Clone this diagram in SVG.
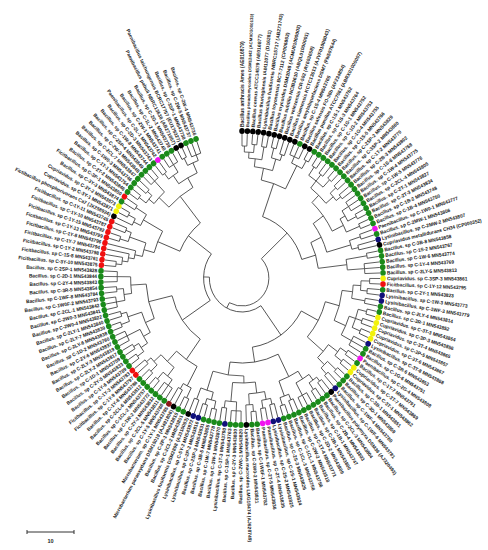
<svg xmlns="http://www.w3.org/2000/svg" width="488" height="550" viewBox="0 0 488 550">
<style>
.c line,.c circle{fill:none;stroke:#3a3a3a;stroke-width:.8}
.K circle{fill:#000}.G circle{fill:#1a8a1a}.R circle{fill:#f01010}.B circle{fill:#10107a}.Y circle{fill:#f2f20a}.M circle{fill:#f014f0}.D circle{fill:#8b1a1a}
#leaves text{font-family:"Liberation Sans",Arial,sans-serif;font-size:5px;font-weight:bold;fill:#1a1a1a}
#leaves text.e{text-anchor:end}
#leaves text.s{font-size:4.4px}
.sb{stroke:#333;stroke-width:1}
.sbt{font-family:"Liberation Sans",Arial,sans-serif;font-size:5.5px;font-weight:bold;fill:#222;text-anchor:middle}
</style>
<rect width="488" height="550" fill="#fff"/>
<g transform="translate(242 278) scale(0.96 1)">
<g id="connectors" class="c">
<circle r="132" pathLength="360" stroke-dasharray="2.2 999" transform="rotate(-90)"/>
<circle r="134" pathLength="360" stroke-dasharray="2.2 999" transform="rotate(-85.6)"/>
<circle r="126" pathLength="360" stroke-dasharray="4.4 999" transform="rotate(-88.9)"/>
<circle r="133" pathLength="360" stroke-dasharray="2.2 999" transform="rotate(-81.2)"/>
<circle r="120" pathLength="360" stroke-dasharray="6.6 999" transform="rotate(-86.7)"/>
<circle r="134" pathLength="360" stroke-dasharray="2.2 999" transform="rotate(-76.8)"/>
<circle r="130" pathLength="360" stroke-dasharray="2.2 999" transform="rotate(-72.4)"/>
<circle r="124" pathLength="360" stroke-dasharray="4.4 999" transform="rotate(-75.7)"/>
<circle r="112" pathLength="360" stroke-dasharray="9.9 999" transform="rotate(-83.4)"/>
<circle r="133" pathLength="360" stroke-dasharray="4.4 999" transform="rotate(-68)"/>
<circle r="135" pathLength="360" stroke-dasharray="2.2 999" transform="rotate(-61.4)"/>
<circle r="126" pathLength="360" stroke-dasharray="5.5 999" transform="rotate(-65.8)"/>
<circle r="100" pathLength="360" stroke-dasharray="15.4 999" transform="rotate(-78.45)"/>
<line transform="rotate(1.1)" y1="-126" y2="-132"/>
<line transform="rotate(5.5)" y1="-126" y2="-134"/>
<line transform="rotate(3.3)" y1="-120" y2="-126"/>
<line transform="rotate(9.9)" y1="-120" y2="-133"/>
<line transform="rotate(6.6)" y1="-112" y2="-120"/>
<line transform="rotate(14.3)" y1="-124" y2="-134"/>
<line transform="rotate(18.7)" y1="-124" y2="-130"/>
<line transform="rotate(16.5)" y1="-112" y2="-124"/>
<line transform="rotate(11.55)" y1="-100" y2="-112"/>
<line transform="rotate(24.2)" y1="-126" y2="-133"/>
<line transform="rotate(29.7)" y1="-126" y2="-135"/>
<line transform="rotate(26.95)" y1="-100" y2="-126"/>
<line transform="rotate(19.25)" y1="-65" y2="-100"/>
<circle r="134" pathLength="360" stroke-dasharray="2.2 999" transform="rotate(-57)"/>
<circle r="132" pathLength="360" stroke-dasharray="2.2 999" transform="rotate(-52.6)"/>
<circle r="134" pathLength="360" stroke-dasharray="2.2 999" transform="rotate(-48.2)"/>
<circle r="124" pathLength="360" stroke-dasharray="8.8 999" transform="rotate(-55.9)"/>
<circle r="133" pathLength="360" stroke-dasharray="2.2 999" transform="rotate(-43.8)"/>
<circle r="131" pathLength="360" stroke-dasharray="2.2 999" transform="rotate(-39.4)"/>
<circle r="125" pathLength="360" stroke-dasharray="4.4 999" transform="rotate(-42.7)"/>
<circle r="115" pathLength="360" stroke-dasharray="11 999" transform="rotate(-51.5)"/>
<circle r="132" pathLength="360" stroke-dasharray="4.4 999" transform="rotate(-35)"/>
<circle r="134" pathLength="360" stroke-dasharray="2.2 999" transform="rotate(-28.4)"/>
<circle r="124" pathLength="360" stroke-dasharray="5.5 999" transform="rotate(-32.8)"/>
<circle r="133" pathLength="360" stroke-dasharray="2.2 999" transform="rotate(-24)"/>
<circle r="118" pathLength="360" stroke-dasharray="7.15 999" transform="rotate(-30.05)"/>
<circle r="105" pathLength="360" stroke-dasharray="19.5 999" transform="rotate(-46)"/>
<circle r="130" pathLength="360" stroke-dasharray="2.2 999" transform="rotate(-19.6)"/>
<circle r="125" pathLength="360" stroke-dasharray="2.2 999" transform="rotate(-15.2)"/>
<circle r="118" pathLength="360" stroke-dasharray="4.4 999" transform="rotate(-18.5)"/>
<circle r="92" pathLength="360" stroke-dasharray="19.95 999" transform="rotate(-36.25)"/>
<circle r="132" pathLength="360" stroke-dasharray="2.2 999" transform="rotate(-10.8)"/>
<circle r="128" pathLength="360" stroke-dasharray="4.4 999" transform="rotate(-6.4)"/>
<circle r="110" pathLength="360" stroke-dasharray="5.5 999" transform="rotate(-9.7)"/>
<circle r="80" pathLength="360" stroke-dasharray="19.35 999" transform="rotate(-26.3)"/>
<circle r="65" pathLength="360" stroke-dasharray="54.15 999" transform="rotate(-70.75)"/>
<line transform="rotate(34.1)" y1="-124" y2="-134"/>
<line transform="rotate(38.5)" y1="-124" y2="-132"/>
<line transform="rotate(42.9)" y1="-124" y2="-134"/>
<line transform="rotate(38.5)" y1="-115" y2="-124"/>
<line transform="rotate(47.3)" y1="-125" y2="-133"/>
<line transform="rotate(51.7)" y1="-125" y2="-131"/>
<line transform="rotate(49.5)" y1="-115" y2="-125"/>
<line transform="rotate(44)" y1="-105" y2="-115"/>
<line transform="rotate(57.2)" y1="-124" y2="-132"/>
<line transform="rotate(62.7)" y1="-124" y2="-134"/>
<line transform="rotate(59.95)" y1="-118" y2="-124"/>
<line transform="rotate(67.1)" y1="-118" y2="-133"/>
<line transform="rotate(63.5)" y1="-105" y2="-118"/>
<line transform="rotate(53.75)" y1="-92" y2="-105"/>
<line transform="rotate(71.5)" y1="-118" y2="-130"/>
<line transform="rotate(75.9)" y1="-118" y2="-125"/>
<line transform="rotate(73.7)" y1="-92" y2="-118"/>
<line transform="rotate(63.7)" y1="-80" y2="-92"/>
<line transform="rotate(80.3)" y1="-110" y2="-132"/>
<line transform="rotate(85.8)" y1="-110" y2="-128"/>
<line transform="rotate(83.05)" y1="-80" y2="-110"/>
<line transform="rotate(73.4)" y1="-65" y2="-80"/>
<line transform="rotate(46.3)" y1="-28" y2="-65"/>
<circle r="133" pathLength="360" stroke-dasharray="2.2 999" transform="rotate(0.2)"/>
<circle r="131" pathLength="360" stroke-dasharray="2.2 999" transform="rotate(4.6)"/>
<circle r="124" pathLength="360" stroke-dasharray="4.4 999" transform="rotate(1.3)"/>
<circle r="130" pathLength="360" stroke-dasharray="2.2 999" transform="rotate(9)"/>
<circle r="116" pathLength="360" stroke-dasharray="6.6 999" transform="rotate(3.5)"/>
<circle r="134" pathLength="360" stroke-dasharray="2.2 999" transform="rotate(13.4)"/>
<circle r="132" pathLength="360" stroke-dasharray="2.2 999" transform="rotate(17.8)"/>
<circle r="134" pathLength="360" stroke-dasharray="2.2 999" transform="rotate(22.2)"/>
<circle r="125" pathLength="360" stroke-dasharray="8.8 999" transform="rotate(14.5)"/>
<circle r="130" pathLength="360" stroke-dasharray="4.4 999" transform="rotate(26.6)"/>
<circle r="118" pathLength="360" stroke-dasharray="9.9 999" transform="rotate(18.9)"/>
<circle r="105" pathLength="360" stroke-dasharray="17.05 999" transform="rotate(6.8)"/>
<circle r="132" pathLength="360" stroke-dasharray="2.2 999" transform="rotate(33.2)"/>
<circle r="133" pathLength="360" stroke-dasharray="2.2 999" transform="rotate(37.6)"/>
<circle r="124" pathLength="360" stroke-dasharray="4.4 999" transform="rotate(34.3)"/>
<circle r="134" pathLength="360" stroke-dasharray="2.2 999" transform="rotate(42)"/>
<circle r="130" pathLength="360" stroke-dasharray="2.2 999" transform="rotate(46.4)"/>
<circle r="122" pathLength="360" stroke-dasharray="4.4 999" transform="rotate(43.1)"/>
<circle r="112" pathLength="360" stroke-dasharray="8.8 999" transform="rotate(36.5)"/>
<circle r="90" pathLength="360" stroke-dasharray="25.6 999" transform="rotate(15.3)"/>
<line transform="rotate(91.3)" y1="-124" y2="-133"/>
<line transform="rotate(95.7)" y1="-124" y2="-131"/>
<line transform="rotate(93.5)" y1="-116" y2="-124"/>
<line transform="rotate(100.1)" y1="-116" y2="-130"/>
<line transform="rotate(96.8)" y1="-105" y2="-116"/>
<line transform="rotate(104.5)" y1="-125" y2="-134"/>
<line transform="rotate(108.9)" y1="-125" y2="-132"/>
<line transform="rotate(113.3)" y1="-125" y2="-134"/>
<line transform="rotate(108.9)" y1="-118" y2="-125"/>
<line transform="rotate(118.8)" y1="-118" y2="-130"/>
<line transform="rotate(113.85)" y1="-105" y2="-118"/>
<line transform="rotate(105.3)" y1="-90" y2="-105"/>
<line transform="rotate(124.3)" y1="-124" y2="-132"/>
<line transform="rotate(128.7)" y1="-124" y2="-133"/>
<line transform="rotate(126.5)" y1="-112" y2="-124"/>
<line transform="rotate(133.1)" y1="-122" y2="-134"/>
<line transform="rotate(137.5)" y1="-122" y2="-130"/>
<line transform="rotate(135.3)" y1="-112" y2="-122"/>
<line transform="rotate(130.9)" y1="-90" y2="-112"/>
<line transform="rotate(118.1)" y1="-70" y2="-90"/>
<circle r="131" pathLength="360" stroke-dasharray="2.2 999" transform="rotate(50.8)"/>
<circle r="134" pathLength="360" stroke-dasharray="2.2 999" transform="rotate(55.2)"/>
<circle r="126" pathLength="360" stroke-dasharray="4.4 999" transform="rotate(51.9)"/>
<circle r="133" pathLength="360" stroke-dasharray="4.4 999" transform="rotate(59.6)"/>
<circle r="119" pathLength="360" stroke-dasharray="7.7 999" transform="rotate(54.1)"/>
<circle r="132" pathLength="360" stroke-dasharray="2.2 999" transform="rotate(66.2)"/>
<circle r="134" pathLength="360" stroke-dasharray="2.2 999" transform="rotate(70.6)"/>
<circle r="126" pathLength="360" stroke-dasharray="4.4 999" transform="rotate(67.3)"/>
<circle r="110" pathLength="360" stroke-dasharray="11.55 999" transform="rotate(57.95)"/>
<circle r="130" pathLength="360" stroke-dasharray="2.2 999" transform="rotate(75)"/>
<circle r="132" pathLength="360" stroke-dasharray="2.2 999" transform="rotate(79.4)"/>
<circle r="124" pathLength="360" stroke-dasharray="4.4 999" transform="rotate(76.1)"/>
<circle r="134" pathLength="360" stroke-dasharray="2.2 999" transform="rotate(83.8)"/>
<circle r="127" pathLength="360" stroke-dasharray="3.3 999" transform="rotate(84.9)"/>
<circle r="116" pathLength="360" stroke-dasharray="8.25 999" transform="rotate(78.3)"/>
<circle r="133" pathLength="360" stroke-dasharray="4.4 999" transform="rotate(90.4)"/>
<circle r="131" pathLength="360" stroke-dasharray="2.2 999" transform="rotate(97)"/>
<circle r="124" pathLength="360" stroke-dasharray="5.5 999" transform="rotate(92.6)"/>
<circle r="105" pathLength="360" stroke-dasharray="12.95 999" transform="rotate(82.4)"/>
<circle r="134" pathLength="360" stroke-dasharray="2.2 999" transform="rotate(101.4)"/>
<circle r="132" pathLength="360" stroke-dasharray="2.2 999" transform="rotate(105.8)"/>
<circle r="126" pathLength="360" stroke-dasharray="4.4 999" transform="rotate(102.5)"/>
<circle r="130" pathLength="360" stroke-dasharray="2.2 999" transform="rotate(110.2)"/>
<circle r="118" pathLength="360" stroke-dasharray="6.6 999" transform="rotate(104.7)"/>
<circle r="98" pathLength="360" stroke-dasharray="19.1 999" transform="rotate(88.9)"/>
<circle r="85" pathLength="360" stroke-dasharray="34.75 999" transform="rotate(63.7)"/>
<line transform="rotate(141.9)" y1="-126" y2="-131"/>
<line transform="rotate(146.3)" y1="-126" y2="-134"/>
<line transform="rotate(144.1)" y1="-119" y2="-126"/>
<line transform="rotate(151.8)" y1="-119" y2="-133"/>
<line transform="rotate(147.95)" y1="-110" y2="-119"/>
<line transform="rotate(157.3)" y1="-126" y2="-132"/>
<line transform="rotate(161.7)" y1="-126" y2="-134"/>
<line transform="rotate(159.5)" y1="-110" y2="-126"/>
<line transform="rotate(153.7)" y1="-85" y2="-110"/>
<line transform="rotate(166.1)" y1="-124" y2="-130"/>
<line transform="rotate(170.5)" y1="-124" y2="-132"/>
<line transform="rotate(168.3)" y1="-116" y2="-124"/>
<line transform="rotate(174.9)" y1="-127" y2="-134"/>
<line transform="rotate(176.55)" y1="-116" y2="-127"/>
<line transform="rotate(172.4)" y1="-105" y2="-116"/>
<line transform="rotate(182.6)" y1="-124" y2="-133"/>
<line transform="rotate(188.1)" y1="-124" y2="-131"/>
<line transform="rotate(185.35)" y1="-105" y2="-124"/>
<line transform="rotate(178.9)" y1="-98" y2="-105"/>
<line transform="rotate(192.5)" y1="-126" y2="-134"/>
<line transform="rotate(196.9)" y1="-126" y2="-132"/>
<line transform="rotate(194.7)" y1="-118" y2="-126"/>
<line transform="rotate(201.3)" y1="-118" y2="-130"/>
<line transform="rotate(198)" y1="-98" y2="-118"/>
<line transform="rotate(188.45)" y1="-85" y2="-98"/>
<line transform="rotate(171.1)" y1="-70" y2="-85"/>
<circle r="133" pathLength="360" stroke-dasharray="2.2 999" transform="rotate(114.6)"/>
<circle r="128" pathLength="360" stroke-dasharray="2.2 999" transform="rotate(119)"/>
<circle r="122" pathLength="360" stroke-dasharray="4.4 999" transform="rotate(115.7)"/>
<circle r="132" pathLength="360" stroke-dasharray="4.4 999" transform="rotate(123.4)"/>
<circle r="134" pathLength="360" stroke-dasharray="2.2 999" transform="rotate(130)"/>
<circle r="125" pathLength="360" stroke-dasharray="5.5 999" transform="rotate(125.6)"/>
<circle r="133" pathLength="360" stroke-dasharray="2.2 999" transform="rotate(134.4)"/>
<circle r="130" pathLength="360" stroke-dasharray="2.2 999" transform="rotate(138.8)"/>
<circle r="124" pathLength="360" stroke-dasharray="4.4 999" transform="rotate(135.5)"/>
<circle r="114" pathLength="360" stroke-dasharray="9.35 999" transform="rotate(128.35)"/>
<circle r="100" pathLength="360" stroke-dasharray="15.1 999" transform="rotate(117.9)"/>
<line transform="rotate(205.7)" y1="-122" y2="-133"/>
<line transform="rotate(210.1)" y1="-122" y2="-128"/>
<line transform="rotate(207.9)" y1="-100" y2="-122"/>
<line transform="rotate(215.6)" y1="-125" y2="-132"/>
<line transform="rotate(221.1)" y1="-125" y2="-134"/>
<line transform="rotate(218.35)" y1="-114" y2="-125"/>
<line transform="rotate(225.5)" y1="-124" y2="-133"/>
<line transform="rotate(229.9)" y1="-124" y2="-130"/>
<line transform="rotate(227.7)" y1="-114" y2="-124"/>
<line transform="rotate(223)" y1="-100" y2="-114"/>
<line transform="rotate(215.45)" y1="-75" y2="-100"/>
<circle r="134" pathLength="360" stroke-dasharray="2.2 999" transform="rotate(143.2)"/>
<circle r="132" pathLength="360" stroke-dasharray="2.2 999" transform="rotate(147.6)"/>
<circle r="126" pathLength="360" stroke-dasharray="4.4 999" transform="rotate(144.3)"/>
<circle r="133" pathLength="360" stroke-dasharray="4.4 999" transform="rotate(152)"/>
<circle r="118" pathLength="360" stroke-dasharray="7.7 999" transform="rotate(146.5)"/>
<circle r="134" pathLength="360" stroke-dasharray="2.2 999" transform="rotate(158.6)"/>
<circle r="131" pathLength="360" stroke-dasharray="2.2 999" transform="rotate(163)"/>
<circle r="125" pathLength="360" stroke-dasharray="4.4 999" transform="rotate(159.7)"/>
<circle r="110" pathLength="360" stroke-dasharray="11.55 999" transform="rotate(150.35)"/>
<circle r="133" pathLength="360" stroke-dasharray="4.4 999" transform="rotate(167.4)"/>
<circle r="131" pathLength="360" stroke-dasharray="2.2 999" transform="rotate(174)"/>
<circle r="124" pathLength="360" stroke-dasharray="5.5 999" transform="rotate(169.6)"/>
<circle r="130" pathLength="360" stroke-dasharray="4.4 999" transform="rotate(178.4)"/>
<circle r="116" pathLength="360" stroke-dasharray="8.25 999" transform="rotate(172.35)"/>
<circle r="100" pathLength="360" stroke-dasharray="20.4 999" transform="rotate(156.1)"/>
<line transform="rotate(234.3)" y1="-126" y2="-134"/>
<line transform="rotate(238.7)" y1="-126" y2="-132"/>
<line transform="rotate(236.5)" y1="-118" y2="-126"/>
<line transform="rotate(244.2)" y1="-118" y2="-133"/>
<line transform="rotate(240.35)" y1="-110" y2="-118"/>
<line transform="rotate(249.7)" y1="-125" y2="-134"/>
<line transform="rotate(254.1)" y1="-125" y2="-131"/>
<line transform="rotate(251.9)" y1="-110" y2="-125"/>
<line transform="rotate(246.1)" y1="-100" y2="-110"/>
<line transform="rotate(259.6)" y1="-124" y2="-133"/>
<line transform="rotate(265.1)" y1="-124" y2="-131"/>
<line transform="rotate(262.35)" y1="-116" y2="-124"/>
<line transform="rotate(270.6)" y1="-116" y2="-130"/>
<line transform="rotate(266.5)" y1="-100" y2="-116"/>
<line transform="rotate(256.3)" y1="-75" y2="-100"/>
<circle r="132" pathLength="360" stroke-dasharray="2.2 999" transform="rotate(185)"/>
<circle r="126" pathLength="360" stroke-dasharray="3.3 999" transform="rotate(186.1)"/>
<circle r="120" pathLength="360" stroke-dasharray="3.85 999" transform="rotate(187.75)"/>
<circle r="114" pathLength="360" stroke-dasharray="4.1 999" transform="rotate(189.7)"/>
<circle r="133" pathLength="360" stroke-dasharray="2.2 999" transform="rotate(196)"/>
<circle r="130" pathLength="360" stroke-dasharray="2.2 999" transform="rotate(200.4)"/>
<circle r="124" pathLength="360" stroke-dasharray="4.4 999" transform="rotate(197.1)"/>
<circle r="106" pathLength="360" stroke-dasharray="7.55 999" transform="rotate(191.75)"/>
<circle r="134" pathLength="360" stroke-dasharray="2.2 999" transform="rotate(207)"/>
<circle r="126" pathLength="360" stroke-dasharray="3.3 999" transform="rotate(204.8)"/>
<circle r="131" pathLength="360" stroke-dasharray="2.2 999" transform="rotate(211.4)"/>
<circle r="118" pathLength="360" stroke-dasharray="6.05 999" transform="rotate(206.45)"/>
<circle r="95" pathLength="360" stroke-dasharray="14 999" transform="rotate(195.5)"/>
<line transform="rotate(276.1)" y1="-126" y2="-132"/>
<line transform="rotate(277.75)" y1="-120" y2="-126"/>
<line transform="rotate(279.7)" y1="-114" y2="-120"/>
<line transform="rotate(281.75)" y1="-106" y2="-114"/>
<line transform="rotate(287.1)" y1="-124" y2="-133"/>
<line transform="rotate(291.5)" y1="-124" y2="-130"/>
<line transform="rotate(289.3)" y1="-106" y2="-124"/>
<line transform="rotate(285.5)" y1="-95" y2="-106"/>
<line transform="rotate(298.1)" y1="-126" y2="-134"/>
<line transform="rotate(296.45)" y1="-118" y2="-126"/>
<line transform="rotate(302.5)" y1="-118" y2="-131"/>
<line transform="rotate(299.5)" y1="-95" y2="-118"/>
<line transform="rotate(292.5)" y1="-70" y2="-95"/>
<circle r="134" pathLength="360" stroke-dasharray="2.2 999" transform="rotate(215.8)"/>
<circle r="131" pathLength="360" stroke-dasharray="2.2 999" transform="rotate(220.2)"/>
<circle r="125" pathLength="360" stroke-dasharray="4.4 999" transform="rotate(216.9)"/>
<circle r="133" pathLength="360" stroke-dasharray="4.4 999" transform="rotate(224.6)"/>
<circle r="118" pathLength="360" stroke-dasharray="7.7 999" transform="rotate(219.1)"/>
<circle r="132" pathLength="360" stroke-dasharray="2.2 999" transform="rotate(231.2)"/>
<circle r="134" pathLength="360" stroke-dasharray="4.4 999" transform="rotate(235.6)"/>
<circle r="125" pathLength="360" stroke-dasharray="5.5 999" transform="rotate(232.3)"/>
<circle r="134" pathLength="360" stroke-dasharray="2.2 999" transform="rotate(242.2)"/>
<circle r="132" pathLength="360" stroke-dasharray="4.4 999" transform="rotate(246.6)"/>
<circle r="126" pathLength="360" stroke-dasharray="5.5 999" transform="rotate(243.3)"/>
<circle r="115" pathLength="360" stroke-dasharray="11 999" transform="rotate(235.05)"/>
<circle r="104" pathLength="360" stroke-dasharray="17.6 999" transform="rotate(222.95)"/>
<line transform="rotate(306.9)" y1="-125" y2="-134"/>
<line transform="rotate(311.3)" y1="-125" y2="-131"/>
<line transform="rotate(309.1)" y1="-118" y2="-125"/>
<line transform="rotate(316.8)" y1="-118" y2="-133"/>
<line transform="rotate(312.95)" y1="-104" y2="-118"/>
<line transform="rotate(322.3)" y1="-125" y2="-132"/>
<line transform="rotate(327.8)" y1="-125" y2="-134"/>
<line transform="rotate(325.05)" y1="-115" y2="-125"/>
<line transform="rotate(333.3)" y1="-126" y2="-134"/>
<line transform="rotate(338.8)" y1="-126" y2="-132"/>
<line transform="rotate(336.05)" y1="-115" y2="-126"/>
<line transform="rotate(330.55)" y1="-104" y2="-115"/>
<line transform="rotate(321.75)" y1="-70" y2="-104"/>
<circle r="70" pathLength="360" stroke-dasharray="53 999" transform="rotate(28.1)"/>
<circle r="75" pathLength="360" stroke-dasharray="40.85 999" transform="rotate(125.45)"/>
<circle r="70" pathLength="360" stroke-dasharray="29.25 999" transform="rotate(202.5)"/>
<circle r="40" pathLength="360" stroke-dasharray="71.2 999" transform="rotate(145.9)"/>
<circle r="34" pathLength="360" stroke-dasharray="126.9 999" transform="rotate(54.6)"/>
<circle r="28" pathLength="360" stroke-dasharray="161.7 999" transform="rotate(-43.7)"/>
<line transform="rotate(144.6)" y1="-34" y2="-70"/>
<line transform="rotate(235.9)" y1="-40" y2="-75"/>
<line transform="rotate(307.1)" y1="-40" y2="-70"/>
<line transform="rotate(271.5)" y1="-34" y2="-40"/>
<line transform="rotate(208)" y1="-28" y2="-34"/>
<line transform="rotate(0)" y1="-132" y2="-144"/>
<line transform="rotate(2.2)" y1="-132" y2="-144"/>
<line transform="rotate(4.4)" y1="-134" y2="-144"/>
<line transform="rotate(6.6)" y1="-134" y2="-144"/>
<line transform="rotate(8.8)" y1="-133" y2="-144"/>
<line transform="rotate(11)" y1="-133" y2="-144"/>
<line transform="rotate(13.2)" y1="-134" y2="-144"/>
<line transform="rotate(15.4)" y1="-134" y2="-144"/>
<line transform="rotate(17.6)" y1="-130" y2="-144"/>
<line transform="rotate(19.8)" y1="-130" y2="-144"/>
<line transform="rotate(22)" y1="-133" y2="-144"/>
<line transform="rotate(24.2)" y1="-133" y2="-144"/>
<line transform="rotate(26.4)" y1="-133" y2="-144"/>
<line transform="rotate(28.6)" y1="-135" y2="-144"/>
<line transform="rotate(30.8)" y1="-135" y2="-144"/>
<line transform="rotate(33)" y1="-134" y2="-144"/>
<line transform="rotate(35.2)" y1="-134" y2="-144"/>
<line transform="rotate(37.4)" y1="-132" y2="-144"/>
<line transform="rotate(39.6)" y1="-132" y2="-144"/>
<line transform="rotate(41.8)" y1="-134" y2="-144"/>
<line transform="rotate(44)" y1="-134" y2="-144"/>
<line transform="rotate(46.2)" y1="-133" y2="-144"/>
<line transform="rotate(48.4)" y1="-133" y2="-144"/>
<line transform="rotate(50.6)" y1="-131" y2="-144"/>
<line transform="rotate(52.8)" y1="-131" y2="-144"/>
<line transform="rotate(55)" y1="-132" y2="-144"/>
<line transform="rotate(57.2)" y1="-132" y2="-144"/>
<line transform="rotate(59.4)" y1="-132" y2="-144"/>
<line transform="rotate(61.6)" y1="-134" y2="-144"/>
<line transform="rotate(63.8)" y1="-134" y2="-144"/>
<line transform="rotate(66)" y1="-133" y2="-144"/>
<line transform="rotate(68.2)" y1="-133" y2="-144"/>
<line transform="rotate(70.4)" y1="-130" y2="-144"/>
<line transform="rotate(72.6)" y1="-130" y2="-144"/>
<line transform="rotate(74.8)" y1="-125" y2="-144"/>
<line transform="rotate(77)" y1="-125" y2="-144"/>
<line transform="rotate(79.2)" y1="-132" y2="-144"/>
<line transform="rotate(81.4)" y1="-132" y2="-144"/>
<line transform="rotate(83.6)" y1="-128" y2="-144"/>
<line transform="rotate(85.8)" y1="-128" y2="-144"/>
<line transform="rotate(88)" y1="-128" y2="-144"/>
<line transform="rotate(90.2)" y1="-133" y2="-144"/>
<line transform="rotate(92.4)" y1="-133" y2="-144"/>
<line transform="rotate(94.6)" y1="-131" y2="-144"/>
<line transform="rotate(96.8)" y1="-131" y2="-144"/>
<line transform="rotate(99)" y1="-130" y2="-144"/>
<line transform="rotate(101.2)" y1="-130" y2="-144"/>
<line transform="rotate(103.4)" y1="-134" y2="-144"/>
<line transform="rotate(105.6)" y1="-134" y2="-144"/>
<line transform="rotate(107.8)" y1="-132" y2="-144"/>
<line transform="rotate(110)" y1="-132" y2="-144"/>
<line transform="rotate(112.2)" y1="-134" y2="-144"/>
<line transform="rotate(114.4)" y1="-134" y2="-144"/>
<line transform="rotate(116.6)" y1="-130" y2="-144"/>
<line transform="rotate(118.8)" y1="-130" y2="-144"/>
<line transform="rotate(121)" y1="-130" y2="-144"/>
<line transform="rotate(123.2)" y1="-132" y2="-144"/>
<line transform="rotate(125.4)" y1="-132" y2="-144"/>
<line transform="rotate(127.6)" y1="-133" y2="-144"/>
<line transform="rotate(129.8)" y1="-133" y2="-144"/>
<line transform="rotate(132)" y1="-134" y2="-144"/>
<line transform="rotate(134.2)" y1="-134" y2="-144"/>
<line transform="rotate(136.4)" y1="-130" y2="-144"/>
<line transform="rotate(138.6)" y1="-130" y2="-144"/>
<line transform="rotate(140.8)" y1="-131" y2="-144"/>
<line transform="rotate(143)" y1="-131" y2="-144"/>
<line transform="rotate(145.2)" y1="-134" y2="-144"/>
<line transform="rotate(147.4)" y1="-134" y2="-144"/>
<line transform="rotate(149.6)" y1="-133" y2="-144"/>
<line transform="rotate(151.8)" y1="-133" y2="-144"/>
<line transform="rotate(154)" y1="-133" y2="-144"/>
<line transform="rotate(156.2)" y1="-132" y2="-144"/>
<line transform="rotate(158.4)" y1="-132" y2="-144"/>
<line transform="rotate(160.6)" y1="-134" y2="-144"/>
<line transform="rotate(162.8)" y1="-134" y2="-144"/>
<line transform="rotate(165)" y1="-130" y2="-144"/>
<line transform="rotate(167.2)" y1="-130" y2="-144"/>
<line transform="rotate(169.4)" y1="-132" y2="-144"/>
<line transform="rotate(171.6)" y1="-132" y2="-144"/>
<line transform="rotate(173.8)" y1="-134" y2="-144"/>
<line transform="rotate(176)" y1="-134" y2="-144"/>
<line transform="rotate(178.2)" y1="-127" y2="-144"/>
<line transform="rotate(180.4)" y1="-133" y2="-144"/>
<line transform="rotate(182.6)" y1="-133" y2="-144"/>
<line transform="rotate(184.8)" y1="-133" y2="-144"/>
<line transform="rotate(187)" y1="-131" y2="-144"/>
<line transform="rotate(189.2)" y1="-131" y2="-144"/>
<line transform="rotate(191.4)" y1="-134" y2="-144"/>
<line transform="rotate(193.6)" y1="-134" y2="-144"/>
<line transform="rotate(195.8)" y1="-132" y2="-144"/>
<line transform="rotate(198)" y1="-132" y2="-144"/>
<line transform="rotate(200.2)" y1="-130" y2="-144"/>
<line transform="rotate(202.4)" y1="-130" y2="-144"/>
<line transform="rotate(204.6)" y1="-133" y2="-144"/>
<line transform="rotate(206.8)" y1="-133" y2="-144"/>
<line transform="rotate(209)" y1="-128" y2="-144"/>
<line transform="rotate(211.2)" y1="-128" y2="-144"/>
<line transform="rotate(213.4)" y1="-132" y2="-144"/>
<line transform="rotate(215.6)" y1="-132" y2="-144"/>
<line transform="rotate(217.8)" y1="-132" y2="-144"/>
<line transform="rotate(220)" y1="-134" y2="-144"/>
<line transform="rotate(222.2)" y1="-134" y2="-144"/>
<line transform="rotate(224.4)" y1="-133" y2="-144"/>
<line transform="rotate(226.6)" y1="-133" y2="-144"/>
<line transform="rotate(228.8)" y1="-130" y2="-144"/>
<line transform="rotate(231)" y1="-130" y2="-144"/>
<line transform="rotate(233.2)" y1="-134" y2="-144"/>
<line transform="rotate(235.4)" y1="-134" y2="-144"/>
<line transform="rotate(237.6)" y1="-132" y2="-144"/>
<line transform="rotate(239.8)" y1="-132" y2="-144"/>
<line transform="rotate(242)" y1="-133" y2="-144"/>
<line transform="rotate(244.2)" y1="-133" y2="-144"/>
<line transform="rotate(246.4)" y1="-133" y2="-144"/>
<line transform="rotate(248.6)" y1="-134" y2="-144"/>
<line transform="rotate(250.8)" y1="-134" y2="-144"/>
<line transform="rotate(253)" y1="-131" y2="-144"/>
<line transform="rotate(255.2)" y1="-131" y2="-144"/>
<line transform="rotate(257.4)" y1="-133" y2="-144"/>
<line transform="rotate(259.6)" y1="-133" y2="-144"/>
<line transform="rotate(261.8)" y1="-133" y2="-144"/>
<line transform="rotate(264)" y1="-131" y2="-144"/>
<line transform="rotate(266.2)" y1="-131" y2="-144"/>
<line transform="rotate(268.4)" y1="-130" y2="-144"/>
<line transform="rotate(270.6)" y1="-130" y2="-144"/>
<line transform="rotate(272.8)" y1="-130" y2="-144"/>
<line transform="rotate(275)" y1="-132" y2="-144"/>
<line transform="rotate(277.2)" y1="-132" y2="-144"/>
<line transform="rotate(279.4)" y1="-126" y2="-144"/>
<line transform="rotate(281.6)" y1="-120" y2="-144"/>
<line transform="rotate(283.8)" y1="-114" y2="-144"/>
<line transform="rotate(286)" y1="-133" y2="-144"/>
<line transform="rotate(288.2)" y1="-133" y2="-144"/>
<line transform="rotate(290.4)" y1="-130" y2="-144"/>
<line transform="rotate(292.6)" y1="-130" y2="-144"/>
<line transform="rotate(294.8)" y1="-126" y2="-144"/>
<line transform="rotate(297)" y1="-134" y2="-144"/>
<line transform="rotate(299.2)" y1="-134" y2="-144"/>
<line transform="rotate(301.4)" y1="-131" y2="-144"/>
<line transform="rotate(303.6)" y1="-131" y2="-144"/>
<line transform="rotate(305.8)" y1="-134" y2="-144"/>
<line transform="rotate(308)" y1="-134" y2="-144"/>
<line transform="rotate(310.2)" y1="-131" y2="-144"/>
<line transform="rotate(312.4)" y1="-131" y2="-144"/>
<line transform="rotate(314.6)" y1="-133" y2="-144"/>
<line transform="rotate(316.8)" y1="-133" y2="-144"/>
<line transform="rotate(319)" y1="-133" y2="-144"/>
<line transform="rotate(321.2)" y1="-132" y2="-144"/>
<line transform="rotate(323.4)" y1="-132" y2="-144"/>
<line transform="rotate(325.6)" y1="-134" y2="-144"/>
<line transform="rotate(327.8)" y1="-134" y2="-144"/>
<line transform="rotate(330)" y1="-134" y2="-144"/>
<line transform="rotate(332.2)" y1="-134" y2="-144"/>
<line transform="rotate(334.4)" y1="-134" y2="-144"/>
<line transform="rotate(336.6)" y1="-132" y2="-144"/>
<line transform="rotate(338.8)" y1="-132" y2="-144"/>
<line transform="rotate(341)" y1="-132" y2="-144"/>
</g>
<g id="leaves">
<g id="leaf0" class="K" transform="rotate(0)"><circle cy="-147" r="2.9"/><text x="151" y="1.7" transform="rotate(-90)">Bacillus anthracis Ames (AE016879)</text></g>
<g id="leaf1" class="K" transform="rotate(2.2)"><circle cy="-147" r="2.9"/><text class="s" x="151" y="1.6" transform="rotate(-90)">Bacillus pseudomycoides DSM12442 (ACMX01000133)</text></g>
<g id="leaf2" class="K" transform="rotate(4.4)"><circle cy="-147" r="2.9"/><text x="151" y="1.7" transform="rotate(-90)">Bacillus cereus ATCC14579 (AE016877)</text></g>
<g id="leaf3" class="K" transform="rotate(6.6)"><circle cy="-147" r="2.9"/><text x="151" y="1.7" transform="rotate(-90)">Bacillus thuringiensis IAM12077 (D16281)</text></g>
<g id="leaf4" class="K" transform="rotate(8.8)"><circle cy="-147" r="2.9"/><text x="151" y="1.7" transform="rotate(-90)">Lysinibacillus fusiformis NBRC15717 (AB271743)</text></g>
<g id="leaf5" class="K" transform="rotate(11)"><circle cy="-147" r="2.9"/><text x="151" y="1.7" transform="rotate(-90)">Bacillus toyonensis BCT-7112 (CP006863)</text></g>
<g id="leaf6" class="K" transform="rotate(13.2)"><circle cy="-147" r="2.9"/><text x="151" y="1.7" transform="rotate(-90)">Bacillus mycoides DSM2048 (ACMU01000002)</text></g>
<g id="leaf7" class="K" transform="rotate(15.4)"><circle cy="-147" r="2.9"/><text x="151" y="1.7" transform="rotate(-90)">Bacillus subtilis NCIB3610 (ABQL01000001)</text></g>
<g id="leaf8" class="K" transform="rotate(17.6)"><circle cy="-147" r="2.9"/><text x="151" y="1.7" transform="rotate(-90)">Bacillus velezensis CR-502 (AY603658)</text></g>
<g id="leaf9" class="K" transform="rotate(19.8)"><circle cy="-147" r="2.9"/><text x="151" y="1.7" transform="rotate(-90)">Bacillus siamensis KCTC13613 (AJVF01000043)</text></g>
<g id="leaf10" class="K" transform="rotate(22)"><circle cy="-147" r="2.9"/><text x="151" y="1.7" transform="rotate(-90)">Bacillus amyloliquefaciens DSM7 (FN597644)</text></g>
<g id="leaf11" class="G" transform="rotate(24.2)"><circle cy="-147" r="2.9"/><text x="151" y="1.7" transform="rotate(-90)">Bacillus. sp C-1S-4 MN543765</text></g>
<g id="leaf12" class="K" transform="rotate(26.4)"><circle cy="-147" r="2.9"/><text x="151" y="1.7" transform="rotate(-90)">Bacillus safensis FO-36b (AF234854)</text></g>
<g id="leaf13" class="K" transform="rotate(28.6)"><circle cy="-147" r="2.9"/><text x="151" y="1.7" transform="rotate(-90)">Bacillus pumilus ATCC7061 (ABRX01000007)</text></g>
<g id="leaf14" class="G" transform="rotate(30.8)"><circle cy="-147" r="2.9"/><text x="151" y="1.7" transform="rotate(-90)">Bacillus. sp C-1S-1 MN543762</text></g>
<g id="leaf15" class="G" transform="rotate(33)"><circle cy="-147" r="2.9"/><text x="151" y="1.7" transform="rotate(-90)">Bacillus. sp C-1S-3 MN543764</text></g>
<g id="leaf16" class="G" transform="rotate(35.2)"><circle cy="-147" r="2.9"/><text x="151" y="1.7" transform="rotate(-90)">Bacillus. sp C-1G-1 MN543752</text></g>
<g id="leaf17" class="G" transform="rotate(37.4)"><circle cy="-147" r="2.9"/><text x="151" y="1.7" transform="rotate(-90)">Bacillus. sp C-1G-2 MN543753</text></g>
<g id="leaf18" class="G" transform="rotate(39.6)"><circle cy="-147" r="2.9"/><text x="151" y="1.7" transform="rotate(-90)">Bacillus. sp C-1G-4 MN543755</text></g>
<g id="leaf19" class="G" transform="rotate(41.8)"><circle cy="-147" r="2.9"/><text x="151" y="1.7" transform="rotate(-90)">Bacillus. sp C-1S-5 MN543766</text></g>
<g id="leaf20" class="G" transform="rotate(44)"><circle cy="-147" r="2.9"/><text x="151" y="1.7" transform="rotate(-90)">Bacillus. sp C-2SP-2 MN543829</text></g>
<g id="leaf21" class="G" transform="rotate(46.2)"><circle cy="-147" r="2.9"/><text x="151" y="1.7" transform="rotate(-90)">Bacillus. sp C-3SP-2 MN543860</text></g>
<g id="leaf22" class="G" transform="rotate(48.4)"><circle cy="-147" r="2.9"/><text x="151" y="1.7" transform="rotate(-90)">Bacillus. sp C-1T-2 MN543770</text></g>
<g id="leaf23" class="G" transform="rotate(50.6)"><circle cy="-147" r="2.9"/><text x="151" y="1.7" transform="rotate(-90)">Bacillus. sp C-2B-3 MN543802</text></g>
<g id="leaf24" class="G" transform="rotate(52.8)"><circle cy="-147" r="2.9"/><text x="151" y="1.7" transform="rotate(-90)">Bacillus. sp C-1S-6 MN543768</text></g>
<g id="leaf25" class="G" transform="rotate(55)"><circle cy="-147" r="2.9"/><text x="151" y="1.7" transform="rotate(-90)">Bacillus. sp C-1W-4 MN543775</text></g>
<g id="leaf26" class="G" transform="rotate(57.2)"><circle cy="-147" r="2.9"/><text x="151" y="1.7" transform="rotate(-90)">Bacillus. sp C-1W-5 MN543776</text></g>
<g id="leaf27" class="G" transform="rotate(59.4)"><circle cy="-147" r="2.9"/><text x="151" y="1.7" transform="rotate(-90)">Bacillus. sp C-2CL-4 MN543805</text></g>
<g id="leaf28" class="G" transform="rotate(61.6)"><circle cy="-147" r="2.9"/><text x="151" y="1.7" transform="rotate(-90)">Bacillus. sp C-2T-1 MN543827</text></g>
<g id="leaf29" class="G" transform="rotate(63.8)"><circle cy="-147" r="2.9"/><text x="151" y="1.7" transform="rotate(-90)">Bacillus. sp C-2T-3 MN543834</text></g>
<g id="leaf30" class="G" transform="rotate(66)"><circle cy="-147" r="2.9"/><text x="151" y="1.7" transform="rotate(-90)">Bacillus. sp C-1B-2 MN543748</text></g>
<g id="leaf31" class="G" transform="rotate(68.2)"><circle cy="-147" r="2.9"/><text x="151" y="1.7" transform="rotate(-90)">Bacillus. sp C-1B-4 MN543750</text></g>
<g id="leaf32" class="M" transform="rotate(70.4)"><circle cy="-147" r="2.9"/><text x="151" y="1.7" transform="rotate(-90)">Paenibacillus. sp C-1W0-1 MN543777</text></g>
<g id="leaf33" class="G" transform="rotate(72.6)"><circle cy="-147" r="2.9"/><text x="151" y="1.7" transform="rotate(-90)">Bacillus. sp C-2MW-1 MN543806</text></g>
<g id="leaf34" class="B" transform="rotate(74.8)"><circle cy="-147" r="2.9"/><text x="151" y="1.7" transform="rotate(-90)">Lysinibacillus. sp C-2MW-2 MN543807</text></g>
<g id="leaf35" class="K" transform="rotate(77)"><circle cy="-147" r="2.9"/><text x="151" y="1.7" transform="rotate(-90)">Cupriavidus metallidurans CH34 (CP000352)</text></g>
<g id="leaf36" class="G" transform="rotate(79.2)"><circle cy="-147" r="2.9"/><text x="151" y="1.7" transform="rotate(-90)">Bacillus. sp C-3B-8 MN543858</text></g>
<g id="leaf37" class="G" transform="rotate(81.4)"><circle cy="-147" r="2.9"/><text x="151" y="1.7" transform="rotate(-90)">Bacillus. sp C-1S-2 MN543767</text></g>
<g id="leaf38" class="G" transform="rotate(83.6)"><circle cy="-147" r="2.9"/><text x="151" y="1.7" transform="rotate(-90)">Bacillus. sp C-1W-6 MN543774</text></g>
<g id="leaf39" class="G" transform="rotate(85.8)"><circle cy="-147" r="2.9"/><text x="151" y="1.7" transform="rotate(-90)">Bacillus. sp C-1Y-4 MN543769</text></g>
<g id="leaf40" class="G" transform="rotate(88)"><circle cy="-147" r="2.9"/><text x="151" y="1.7" transform="rotate(-90)">Bacillus. sp C-2LY-5 MN543813</text></g>
<g id="leaf41" class="Y" transform="rotate(90.2)"><circle cy="-147" r="2.9"/><text x="151" y="1.7" transform="rotate(-90)">Cupriavidus. sp C-3SP-3 MN543861</text></g>
<g id="leaf42" class="R" transform="rotate(92.4)"><circle cy="-147" r="2.9"/><text x="151" y="1.7" transform="rotate(-90)">Ficitbacillus. sp C-1Y-12 MN543795</text></g>
<g id="leaf43" class="G" transform="rotate(94.6)"><circle cy="-147" r="2.9"/><text x="151" y="1.7" transform="rotate(-90)">Bacillus. sp C-2Y-1 MN543823</text></g>
<g id="leaf44" class="B" transform="rotate(96.8)"><circle cy="-147" r="2.9"/><text x="151" y="1.7" transform="rotate(-90)">Lysinibacillus. sp C-1W-3 MN543773</text></g>
<g id="leaf45" class="B" transform="rotate(99)"><circle cy="-147" r="2.9"/><text x="151" y="1.7" transform="rotate(-90)">Lysinibacillus. sp C-1WF-3 MN543779</text></g>
<g id="leaf46" class="G" transform="rotate(101.2)"><circle cy="-147" r="2.9"/><text x="151" y="1.7" transform="rotate(-90)">Bacillus. sp C-2LY-4 MN543814</text></g>
<g id="leaf47" class="G" transform="rotate(103.4)"><circle cy="-147" r="2.9"/><text x="151" y="1.7" transform="rotate(-90)">Bacillus. sp C-3R-1 MN543852</text></g>
<g id="leaf48" class="Y" transform="rotate(105.6)"><circle cy="-147" r="2.9"/><text x="151" y="1.7" transform="rotate(-90)">Cupriavidus. sp C-3T-3 MN543864</text></g>
<g id="leaf49" class="Y" transform="rotate(107.8)"><circle cy="-147" r="2.9"/><text x="151" y="1.7" transform="rotate(-90)">Cupriavidus. sp C-3P-3 MN543856</text></g>
<g id="leaf50" class="Y" transform="rotate(110)"><circle cy="-147" r="2.9"/><text x="151" y="1.7" transform="rotate(-90)">Cupriavidus. sp C-3T-4 MN543865</text></g>
<g id="leaf51" class="Y" transform="rotate(112.2)"><circle cy="-147" r="2.9"/><text x="151" y="1.7" transform="rotate(-90)">Cupriavidus. sp C-3P-5 MN543857</text></g>
<g id="leaf52" class="Y" transform="rotate(114.4)"><circle cy="-147" r="2.9"/><text x="151" y="1.7" transform="rotate(-90)">Cupriavidus. sp C-3T-6 MN543867</text></g>
<g id="leaf53" class="B" transform="rotate(116.6)"><circle cy="-147" r="2.9"/><text x="151" y="1.7" transform="rotate(-90)">Lysinibacillus. sp C-3T-8 MN543868</text></g>
<g id="leaf54" class="G" transform="rotate(118.8)"><circle cy="-147" r="2.9"/><text x="151" y="1.7" transform="rotate(-90)">Bacillus. sp C-3R-6 MN543853</text></g>
<g id="leaf55" class="G" transform="rotate(121)"><circle cy="-147" r="2.9"/><text x="151" y="1.7" transform="rotate(-90)">Bacillus. sp C-1G-6 MN543751</text></g>
<g id="leaf56" class="M" transform="rotate(123.2)"><circle cy="-147" r="2.9"/><text x="151" y="1.7" transform="rotate(-90)">Paenibacillus. sp C-2G-4 MN543808</text></g>
<g id="leaf57" class="G" transform="rotate(125.4)"><circle cy="-147" r="2.9"/><text x="151" y="1.7" transform="rotate(-90)">Bacillus. sp C-1T-7 MN543791</text></g>
<g id="leaf58" class="Y" transform="rotate(127.6)"><circle cy="-147" r="2.9"/><text x="151" y="1.7" transform="rotate(-90)">Cupriavidus. sp C-3T-7 MN543869</text></g>
<g id="leaf59" class="Y" transform="rotate(129.8)"><circle cy="-147" r="2.9"/><text x="151" y="1.7" transform="rotate(-90)">Cupriavidus. sp C-3T-1 MN543862</text></g>
<g id="leaf60" class="G" transform="rotate(132)"><circle cy="-147" r="2.9"/><text x="151" y="1.7" transform="rotate(-90)">Bacillus. sp C-3B-1 MN543851</text></g>
<g id="leaf61" class="G" transform="rotate(134.2)"><circle cy="-147" r="2.9"/><text x="151" y="1.7" transform="rotate(-90)">Bacillus. sp C-3D-1 MN543859</text></g>
<g id="leaf62" class="G" transform="rotate(136.4)"><circle cy="-147" r="2.9"/><text x="151" y="1.7" transform="rotate(-90)">Bacillus. sp C-1WF-4 MN543780</text></g>
<g id="leaf63" class="B" transform="rotate(138.6)"><circle cy="-147" r="2.9"/><text x="151" y="1.7" transform="rotate(-90)">Lysinibacillus. sp C-1WF-6 MN543781</text></g>
<g id="leaf64" class="K" transform="rotate(140.8)"><circle cy="-147" r="2.9"/><text x="151" y="1.7" transform="rotate(-90)">Paenibacillus polymyxa DSM36 (AJ320493)</text></g>
<g id="leaf65" class="G" transform="rotate(143)"><circle cy="-147" r="2.9"/><text x="151" y="1.7" transform="rotate(-90)">Bacillus. sp C-2CL-3 MN543804</text></g>
<g id="leaf66" class="G" transform="rotate(145.2)"><circle cy="-147" r="2.9"/><text x="151" y="1.7" transform="rotate(-90)">Bacillus. sp C-2B-4 MN543803</text></g>
<g id="leaf67" class="G" transform="rotate(147.4)"><circle cy="-147" r="2.9"/><text x="151" y="1.7" transform="rotate(-90)">Bacillus. sp C-1B-1 MN543747</text></g>
<g id="leaf68" class="G" transform="rotate(149.6)"><circle cy="-147" r="2.9"/><text x="151" y="1.7" transform="rotate(-90)">Bacillus. sp C-2B-1 MN543800</text></g>
<g id="leaf69" class="G" transform="rotate(151.8)"><circle cy="-147" r="2.9"/><text x="151" y="1.7" transform="rotate(-90)">Bacillus. sp C-2D-2 MN543809</text></g>
<g id="leaf70" class="G" transform="rotate(154)"><circle cy="-147" r="2.9"/><text x="151" y="1.7" transform="rotate(-90)">Bacillus. sp C-1T-4 MN543771</text></g>
<g id="leaf71" class="G" transform="rotate(156.2)"><circle cy="-147" r="2.9"/><text x="151" y="1.7" transform="rotate(-90)">Bacillus. sp C-2W-2 MN543818</text></g>
<g id="leaf72" class="G" transform="rotate(158.4)"><circle cy="-147" r="2.9"/><text x="151" y="1.7" transform="rotate(-90)">Bacillus. sp C-1CL-1 MN543756</text></g>
<g id="leaf73" class="G" transform="rotate(160.6)"><circle cy="-147" r="2.9"/><text x="151" y="1.7" transform="rotate(-90)">Bacillus. sp C-1CL-3 MN543758</text></g>
<g id="leaf74" class="G" transform="rotate(162.8)"><circle cy="-147" r="2.9"/><text x="151" y="1.7" transform="rotate(-90)">Bacillus. sp C-2S-3 MN543826</text></g>
<g id="leaf75" class="B" transform="rotate(165)"><circle cy="-147" r="2.9"/><text x="151" y="1.7" transform="rotate(-90)">Lysinibacillus. sp C-2S-1 MN543824</text></g>
<g id="leaf76" class="B" transform="rotate(167.2)"><circle cy="-147" r="2.9"/><text x="151" y="1.7" transform="rotate(-90)">Lysinibacillus. sp C-2S-2 MN543825</text></g>
<g id="leaf77" class="M" transform="rotate(169.4)"><circle cy="-147" r="2.9"/><text x="151" y="1.7" transform="rotate(-90)">Paenibacillus. sp C-2T-4 MN543835</text></g>
<g id="leaf78" class="M" transform="rotate(171.6)"><circle cy="-147" r="2.9"/><text x="151" y="1.7" transform="rotate(-90)">Paenibacillus. sp C-2T-5 MN543836</text></g>
<g id="leaf79" class="G" transform="rotate(173.8)"><circle cy="-147" r="2.9"/><text x="151" y="1.7" transform="rotate(-90)">Bacillus. sp C-1W0F-1 MN543782</text></g>
<g id="leaf80" class="G" transform="rotate(176)"><circle cy="-147" r="2.9"/><text x="151" y="1.7" transform="rotate(-90)">Bacillus. sp C-2W0-2 MN543821</text></g>
<g id="leaf81" class="K" transform="rotate(178.2)"><circle cy="-147" r="2.9"/><text x="151" y="1.7" transform="rotate(-90)">Lysinibacillus macroides LMG18474 (AJ628749)</text></g>
<g id="leaf82" class="G" transform="rotate(180.4)"><circle cy="-147" r="2.9"/><text class="e" x="-151" y="1.7" transform="rotate(90)">Bacillus. sp C-2W0-1 MN543820</text></g>
<g id="leaf83" class="G" transform="rotate(182.6)"><circle cy="-147" r="2.9"/><text class="e" x="-151" y="1.7" transform="rotate(90)">Bacillus. sp C-2Y-3 MN543830</text></g>
<g id="leaf84" class="G" transform="rotate(184.8)"><circle cy="-147" r="2.9"/><text class="e" x="-151" y="1.7" transform="rotate(90)">Bacillus. sp C-1SP-1 MN543763</text></g>
<g id="leaf85" class="B" transform="rotate(187)"><circle cy="-147" r="2.9"/><text class="e" x="-151" y="1.7" transform="rotate(90)">Lysinibacillus. sp C-1T-3 MN543790</text></g>
<g id="leaf86" class="G" transform="rotate(189.2)"><circle cy="-147" r="2.9"/><text class="e" x="-151" y="1.7" transform="rotate(90)">Bacillus. sp C-3W-1 MN543870</text></g>
<g id="leaf87" class="G" transform="rotate(191.4)"><circle cy="-147" r="2.9"/><text class="e" x="-151" y="1.7" transform="rotate(90)">Bacillus. sp C-1W-7 MN543778</text></g>
<g id="leaf88" class="G" transform="rotate(193.6)"><circle cy="-147" r="2.9"/><text class="e" x="-151" y="1.7" transform="rotate(90)">Bacillus. sp C-3B-5 MN543855</text></g>
<g id="leaf89" class="G" transform="rotate(195.8)"><circle cy="-147" r="2.9"/><text class="e" x="-151" y="1.7" transform="rotate(90)">Bacillus. sp C-2SP-3 MN543831</text></g>
<g id="leaf90" class="B" transform="rotate(198)"><circle cy="-147" r="2.9"/><text class="e" x="-151" y="1.7" transform="rotate(90)">Lysinibacillus. sp C-2P-2 MN543816</text></g>
<g id="leaf91" class="B" transform="rotate(200.2)"><circle cy="-147" r="2.9"/><text class="e" x="-151" y="1.7" transform="rotate(90)">Lysinibacillus. sp C-5Y-2 MN543872</text></g>
<g id="leaf92" class="K" transform="rotate(202.4)"><circle cy="-147" r="2.9"/><text class="e" x="-151" y="1.7" transform="rotate(90)">Lysinibacillus fusiformis DSM2898 (AJ310083)</text></g>
<g id="leaf93" class="G" transform="rotate(204.6)"><circle cy="-147" r="2.9"/><text class="e" x="-151" y="1.7" transform="rotate(90)">Bacillus. sp C-2CL-2 MN543801</text></g>
<g id="leaf94" class="G" transform="rotate(206.8)"><circle cy="-147" r="2.9"/><text class="e" x="-151" y="1.7" transform="rotate(90)">Bacillus. sp C-2P-1 MN543815</text></g>
<g id="leaf95" class="K" transform="rotate(209)"><circle cy="-147" r="2.9"/><text class="e" x="-151" y="1.7" transform="rotate(90)">Microbacterium paraoxydans DSM15019 (AJ491806)</text></g>
<g id="leaf96" class="D" transform="rotate(211.2)"><circle cy="-147" r="2.9"/><text class="e" x="-151" y="1.7" transform="rotate(90)">Microbacterium. sp C-1Y-1 MN543785</text></g>
<g id="leaf97" class="G" transform="rotate(213.4)"><circle cy="-147" r="2.9"/><text class="e" x="-151" y="1.7" transform="rotate(90)">Bacillus. sp C-1Y-5 MN543788</text></g>
<g id="leaf98" class="G" transform="rotate(215.6)"><circle cy="-147" r="2.9"/><text class="e" x="-151" y="1.7" transform="rotate(90)">Bacillus. sp C-2CL-5 MN543811</text></g>
<g id="leaf99" class="G" transform="rotate(217.8)"><circle cy="-147" r="2.9"/><text class="e" x="-151" y="1.7" transform="rotate(90)">Bacillus. sp C-2Y-2 MN543832</text></g>
<g id="leaf100" class="G" transform="rotate(220)"><circle cy="-147" r="2.9"/><text class="e" x="-151" y="1.7" transform="rotate(90)">Bacillus. sp C-1W-2 MN543772</text></g>
<g id="leaf101" class="G" transform="rotate(222.2)"><circle cy="-147" r="2.9"/><text class="e" x="-151" y="1.7" transform="rotate(90)">Bacillus. sp C-1CL-2 MN543757</text></g>
<g id="leaf102" class="G" transform="rotate(224.4)"><circle cy="-147" r="2.9"/><text class="e" x="-151" y="1.7" transform="rotate(90)">Bacillus. sp C-2CL-6 MN543812</text></g>
<g id="leaf103" class="G" transform="rotate(226.6)"><circle cy="-147" r="2.9"/><text class="e" x="-151" y="1.7" transform="rotate(90)">Bacillus. sp C-1Y-8 MN543786</text></g>
<g id="leaf104" class="R" transform="rotate(228.8)"><circle cy="-147" r="2.9"/><text class="e" x="-151" y="1.7" transform="rotate(90)">Ficitbacillus. sp C-1Y-9 MN543797</text></g>
<g id="leaf105" class="R" transform="rotate(231)"><circle cy="-147" r="2.9"/><text class="e" x="-151" y="1.7" transform="rotate(90)">Ficitbacillus. sp C-1Y-3 MN543783</text></g>
<g id="leaf106" class="G" transform="rotate(233.2)"><circle cy="-147" r="2.9"/><text class="e" x="-151" y="1.7" transform="rotate(90)">Bacillus. sp C-1Y-6 MN543789</text></g>
<g id="leaf107" class="G" transform="rotate(235.4)"><circle cy="-147" r="2.9"/><text class="e" x="-151" y="1.7" transform="rotate(90)">Bacillus. sp C-2Y-5 MN543833</text></g>
<g id="leaf108" class="G" transform="rotate(237.6)"><circle cy="-147" r="2.9"/><text class="e" x="-151" y="1.7" transform="rotate(90)">Bacillus. sp C-1D-1 MN543759</text></g>
<g id="leaf109" class="G" transform="rotate(239.8)"><circle cy="-147" r="2.9"/><text class="e" x="-151" y="1.7" transform="rotate(90)">Bacillus. sp C-2LY-2 MN543817</text></g>
<g id="leaf110" class="G" transform="rotate(242)"><circle cy="-147" r="2.9"/><text class="e" x="-151" y="1.7" transform="rotate(90)">Bacillus. sp C-2LY-3 MN543819</text></g>
<g id="leaf111" class="G" transform="rotate(244.2)"><circle cy="-147" r="2.9"/><text class="e" x="-151" y="1.7" transform="rotate(90)">Bacillus. sp C-2Y-6 MN543837</text></g>
<g id="leaf112" class="G" transform="rotate(246.4)"><circle cy="-147" r="2.9"/><text class="e" x="-151" y="1.7" transform="rotate(90)">Bacillus. sp C-1D-2 MN543760</text></g>
<g id="leaf113" class="G" transform="rotate(248.6)"><circle cy="-147" r="2.9"/><text class="e" x="-151" y="1.7" transform="rotate(90)">Bacillus. sp C-2LY-6 MN543838</text></g>
<g id="leaf114" class="G" transform="rotate(250.8)"><circle cy="-147" r="2.9"/><text class="e" x="-151" y="1.7" transform="rotate(90)">Bacillus. sp C-2LY-7 MN543839</text></g>
<g id="leaf115" class="G" transform="rotate(253)"><circle cy="-147" r="2.9"/><text class="e" x="-151" y="1.7" transform="rotate(90)">Bacillus. sp C-2LY-1 MN543840</text></g>
<g id="leaf116" class="G" transform="rotate(255.2)"><circle cy="-147" r="2.9"/><text class="e" x="-151" y="1.7" transform="rotate(90)">Bacillus. sp C-2W0-4 MN543822</text></g>
<g id="leaf117" class="G" transform="rotate(257.4)"><circle cy="-147" r="2.9"/><text class="e" x="-151" y="1.7" transform="rotate(90)">Bacillus. sp C-2W0-3 MN543841</text></g>
<g id="leaf118" class="G" transform="rotate(259.6)"><circle cy="-147" r="2.9"/><text class="e" x="-151" y="1.7" transform="rotate(90)">Bacillus. sp C-2CL-1 MN543842</text></g>
<g id="leaf119" class="G" transform="rotate(261.8)"><circle cy="-147" r="2.9"/><text class="e" x="-151" y="1.7" transform="rotate(90)">Bacillus. sp C-1W0F-2 MN543793</text></g>
<g id="leaf120" class="G" transform="rotate(264)"><circle cy="-147" r="2.9"/><text class="e" x="-151" y="1.7" transform="rotate(90)">Bacillus. sp C-1WF-8 MN543784</text></g>
<g id="leaf121" class="G" transform="rotate(266.2)"><circle cy="-147" r="2.9"/><text class="e" x="-151" y="1.7" transform="rotate(90)">Bacillus. sp C-3R-5 MN543854</text></g>
<g id="leaf122" class="G" transform="rotate(268.4)"><circle cy="-147" r="2.9"/><text class="e" x="-151" y="1.7" transform="rotate(90)">Bacillus. sp C-2Y-4 MN543843</text></g>
<g id="leaf123" class="G" transform="rotate(270.6)"><circle cy="-147" r="2.9"/><text class="e" x="-151" y="1.7" transform="rotate(90)">Bacillus. sp C-2D-1 MN543844</text></g>
<g id="leaf124" class="G" transform="rotate(272.8)"><circle cy="-147" r="2.9"/><text class="e" x="-151" y="1.7" transform="rotate(90)">Bacillus. sp C-2SP-1 MN543828</text></g>
<g id="leaf125" class="R" transform="rotate(275)"><circle cy="-147" r="2.9"/><text class="e" x="-151" y="1.7" transform="rotate(90)">Ficitbacillus. sp C-3Y-10 MN543875</text></g>
<g id="leaf126" class="R" transform="rotate(277.2)"><circle cy="-147" r="2.9"/><text class="e" x="-151" y="1.7" transform="rotate(90)">Ficitbacillus. sp C-1S-8 MN543761</text></g>
<g id="leaf127" class="R" transform="rotate(279.4)"><circle cy="-147" r="2.9"/><text class="e" x="-151" y="1.7" transform="rotate(90)">Ficitbacillus. sp C-1Y-2 MN543798</text></g>
<g id="leaf128" class="R" transform="rotate(281.6)"><circle cy="-147" r="2.9"/><text class="e" x="-151" y="1.7" transform="rotate(90)">Ficitbacillus. sp C-1Y-7 MN543794</text></g>
<g id="leaf129" class="R" transform="rotate(283.8)"><circle cy="-147" r="2.9"/><text class="e" x="-151" y="1.7" transform="rotate(90)">Ficitbacillus. sp C-1Y-8 MN543796</text></g>
<g id="leaf130" class="R" transform="rotate(286)"><circle cy="-147" r="2.9"/><text class="e" x="-151" y="1.7" transform="rotate(90)">Ficitbacillus. sp C-1Y-13 MN543799</text></g>
<g id="leaf131" class="R" transform="rotate(288.2)"><circle cy="-147" r="2.9"/><text class="e" x="-151" y="1.7" transform="rotate(90)">Ficitbacillus. sp C-1Y-15 MN543792</text></g>
<g id="leaf132" class="R" transform="rotate(290.4)"><circle cy="-147" r="2.9"/><text class="e" x="-151" y="1.7" transform="rotate(90)">Ficitbacillus. sp C-1Y-10 MN543787</text></g>
<g id="leaf133" class="R" transform="rotate(292.6)"><circle cy="-147" r="2.9"/><text class="e" x="-151" y="1.7" transform="rotate(90)">Ficitbacillus. sp C-1Y-11 MN543745</text></g>
<g id="leaf134" class="K" transform="rotate(294.8)"><circle cy="-147" r="2.9"/><text class="e" x="-151" y="1.7" transform="rotate(90)">Fictibacillus phosphorivorans Ca7 (JX258924)</text></g>
<g id="leaf135" class="Y" transform="rotate(297)"><circle cy="-147" r="2.9"/><text class="e" x="-151" y="1.7" transform="rotate(90)">Cupriavidus. sp C-3Y-1 MN543871</text></g>
<g id="leaf136" class="Y" transform="rotate(299.2)"><circle cy="-147" r="2.9"/><text class="e" x="-151" y="1.7" transform="rotate(90)">Cupriavidus. sp C-3Y-2 MN543873</text></g>
<g id="leaf137" class="G" transform="rotate(301.4)"><circle cy="-147" r="2.9"/><text class="e" x="-151" y="1.7" transform="rotate(90)">Bacillus. sp C-3Y-3 MN543874</text></g>
<g id="leaf138" class="R" transform="rotate(303.6)"><circle cy="-147" r="2.9"/><text class="e" x="-151" y="1.7" transform="rotate(90)">Ficitbacillus. sp C-3P-1 MN543850</text></g>
<g id="leaf139" class="G" transform="rotate(305.8)"><circle cy="-147" r="2.9"/><text class="e" x="-151" y="1.7" transform="rotate(90)">Bacillus. sp C-2T-2 MN543846</text></g>
<g id="leaf140" class="G" transform="rotate(308)"><circle cy="-147" r="2.9"/><text class="e" x="-151" y="1.7" transform="rotate(90)">Bacillus. sp C-1T-1 MN543754</text></g>
<g id="leaf141" class="G" transform="rotate(310.2)"><circle cy="-147" r="2.9"/><text class="e" x="-151" y="1.7" transform="rotate(90)">Bacillus. sp C-1W0-3 MN543746</text></g>
<g id="leaf142" class="G" transform="rotate(312.4)"><circle cy="-147" r="2.9"/><text class="e" x="-151" y="1.7" transform="rotate(90)">Bacillus. sp C-2CL-7 MN543847</text></g>
<g id="leaf143" class="G" transform="rotate(314.6)"><circle cy="-147" r="2.9"/><text class="e" x="-151" y="1.7" transform="rotate(90)">Bacillus. sp C-2W-3 MN543848</text></g>
<g id="leaf144" class="G" transform="rotate(316.8)"><circle cy="-147" r="2.9"/><text class="e" x="-151" y="1.7" transform="rotate(90)">Bacillus. sp C-2SP-4 MN543849</text></g>
<g id="leaf145" class="G" transform="rotate(319)"><circle cy="-147" r="2.9"/><text class="e" x="-151" y="1.7" transform="rotate(90)">Bacillus. sp C-1W-8 MN543744</text></g>
<g id="leaf146" class="G" transform="rotate(321.2)"><circle cy="-147" r="2.9"/><text class="e" x="-151" y="1.7" transform="rotate(90)">Bacillus. sp C-2D-3 MN543743</text></g>
<g id="leaf147" class="M" transform="rotate(323.4)"><circle cy="-147" r="2.9"/><text class="e" x="-151" y="1.7" transform="rotate(90)">Paenibacillus. sp C-2L-1 MN543742</text></g>
<g id="leaf148" class="G" transform="rotate(325.6)"><circle cy="-147" r="2.9"/><text class="e" x="-151" y="1.7" transform="rotate(90)">Bacillus. sp C-2W-1 MN543741</text></g>
<g id="leaf149" class="G" transform="rotate(327.8)"><circle cy="-147" r="2.9"/><text class="e" x="-151" y="1.7" transform="rotate(90)">Bacillus. sp C-1L-2 MN543740</text></g>
<g id="leaf150" class="G" transform="rotate(330)"><circle cy="-147" r="2.9"/><text class="e" x="-151" y="1.7" transform="rotate(90)">Bacillus. sp C-2G-1 MN543739</text></g>
<g id="leaf151" class="K" transform="rotate(332.2)"><circle cy="-147" r="2.9"/><text class="e" x="-151" y="1.7" transform="rotate(90)">Paenibacillus pabuli NBRC13638 (AB271057)</text></g>
<g id="leaf152" class="K" transform="rotate(334.4)"><circle cy="-147" r="2.9"/><text class="e" x="-151" y="1.7" transform="rotate(90)">Paenibacillus taichungensis BCRC17757 (EU179327)</text></g>
<g id="leaf153" class="G" transform="rotate(336.6)"><circle cy="-147" r="2.9"/><text class="e" x="-151" y="1.7" transform="rotate(90)">Bacillus. sp C-3SP-1 MN543738</text></g>
<g id="leaf154" class="G" transform="rotate(338.8)"><circle cy="-147" r="2.9"/><text class="e" x="-151" y="1.7" transform="rotate(90)">Bacillus. sp C-2W-5 MN543737</text></g>
<g id="leaf155" class="G" transform="rotate(341)"><circle cy="-147" r="2.9"/><text class="e" x="-151" y="1.7" transform="rotate(90)">Bacillus. sp C-2W-4 MN543736</text></g>
</g>
</g>
<g id="scalebar">
<line class="sb" x1="27" y1="532" x2="74" y2="532"/>
<line class="sb" x1="27" y1="530" x2="27" y2="534"/>
<line class="sb" x1="74" y1="530" x2="74" y2="534"/>
<text class="sbt" x="50.5" y="543">10</text>
</g>
</svg>
